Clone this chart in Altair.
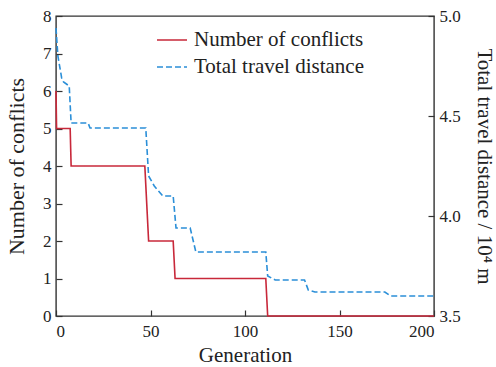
import altair as alt
import pandas as pd

gen_conf = [0, 0.3, 7.5, 8, 47, 49, 62, 63, 111, 112, 200]
conflicts = [6, 5, 5, 4, 4, 2, 2, 1, 1, 0, 0]

gen_dist = [0, 1, 3, 4, 7, 8, 17, 18, 47.5, 49, 52, 56.5, 62, 63.5, 71, 74,
            111, 112, 116, 131.5, 133.5, 137, 174, 177, 200]
distance = [4.94, 4.80, 4.69, 4.67, 4.65, 4.465, 4.465, 4.44, 4.44, 4.20, 4.15, 4.10, 4.10,
            3.94, 3.94, 3.82, 3.82, 3.70, 3.68, 3.68, 3.63, 3.62, 3.62, 3.60, 3.60]

series_names = ["Number of conflicts", "Total travel distance"]
series_colors = ["#c8283a", "#2b8fd8"]
x_ticks = [0, 50, 100, 150, 200]
left_ticks = [0, 1, 2, 3, 4, 5, 6, 7, 8]
right_ticks = [3.5, 4.0, 4.5, 5.0]

df_c = pd.DataFrame({"gen": gen_conf, "val": conflicts, "series": series_names[0]})
df_d = pd.DataFrame({"gen": gen_dist, "val": distance, "series": series_names[1]})

FONT = "Liberation Serif"

color = alt.Color("series:N", title=None,
                  scale=alt.Scale(domain=series_names, range=series_colors),
                  legend=alt.Legend(orient="none", legendX=100, legendY=8,
                                    symbolType="stroke", symbolSize=900,
                                    symbolStrokeWidth=1.6, labelFontSize=21,
                                    labelFont=FONT, labelColor="#222",
                                    rowPadding=1, labelOffset=6, labelLimit=300))
dash = alt.StrokeDash("series:N", title=None,
                      scale=alt.Scale(domain=series_names, range=[[1, 0], [6, 3]]))

x_enc = alt.X("gen:Q", title="Generation",
              scale=alt.Scale(domain=[0, 200], nice=False),
              axis=alt.Axis(values=x_ticks, offset=-6, tickSize=6, domain=False,
                            labelPadding=7, titlePadding=5, titleFontSize=21))

red = alt.Chart(df_c).mark_line(strokeWidth=1.6).encode(
    x=x_enc,
    y=alt.Y("val:Q", title="Number of conflicts",
            scale=alt.Scale(domain=[0, 8], nice=False),
            axis=alt.Axis(values=left_ticks, offset=-6, tickSize=6, domain=False,
                          labelPadding=5, titlePadding=14, titleFontSize=22)),
    color=color, strokeDash=dash,
)

blue = alt.Chart(df_d).mark_line(strokeWidth=1.6).encode(
    x=x_enc,
    y=alt.Y("val:Q", title="Total travel distance / 10⁴ m",
            scale=alt.Scale(domain=[3.5, 5.0], nice=False),
            axis=alt.Axis(orient="right", values=right_ticks, format=".1f", offset=-6,
                          tickSize=6, domain=False, labelPadding=5, titlePadding=13,
                          titleFontSize=21)),
    color=color, strokeDash=dash,
)

chart = alt.layer(red, blue).resolve_scale(y="independent").properties(
    width=378, height=300,
    background="white",
    autosize=alt.AutoSizeParams(type="none"),
    padding={"left": 56, "top": 16, "right": 62, "bottom": 51},
).configure_view(stroke="#333", strokeWidth=1.4).configure_axis(
    labelFont=FONT, titleFont=FONT, labelFontSize=17,
    titleFontWeight="normal", labelColor="#222", titleColor="#222",
    tickColor="#333", tickWidth=1.2, grid=False,
)

chart.save("out.html", embed_options={"renderer": "svg", "actions": False})
